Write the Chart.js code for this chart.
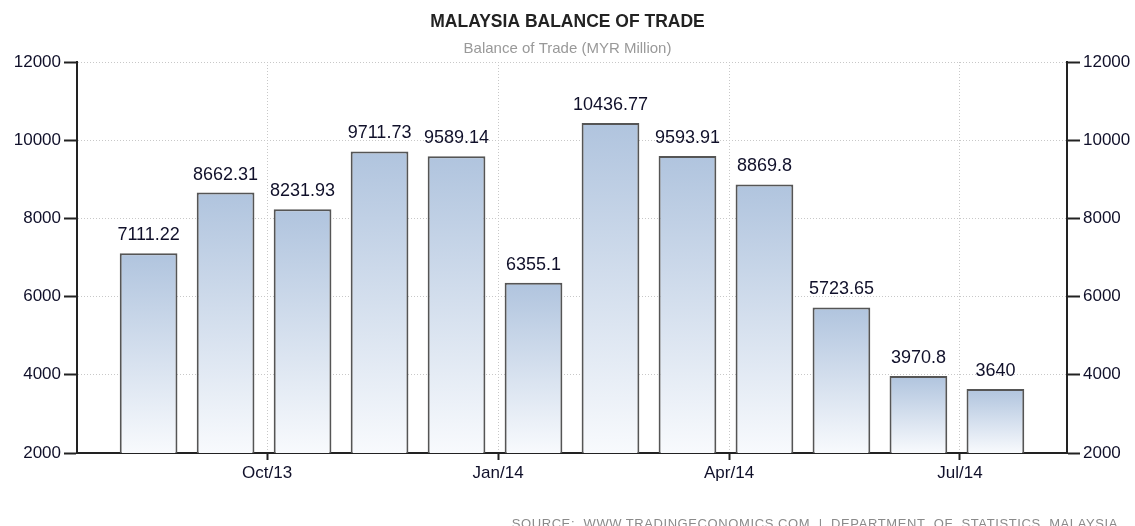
<!DOCTYPE html>
<html>
<head>
<meta charset="utf-8">
<script src="https://cdn.jsdelivr.net/npm/chart.js@4/dist/chart.umd.min.js"></script>
<style>
  html, body { margin: 0; padding: 0; background: #fff; }
  canvas { display: block; }
</style>
</head>
<body>
<canvas id="chart" width="1135" height="526"></canvas>
<script>
// Monthly balance of trade, Aug 2013 .. Jul 2014 (MYR million)
const months = ['Aug/13', 'Sep/13', 'Oct/13', 'Nov/13', 'Dec/13', 'Jan/14',
                'Feb/14', 'Mar/14', 'Apr/14', 'May/14', 'Jun/14', 'Jul/14'];
const balance = [7111.22, 8662.31, 8231.93, 9711.73, 9589.14, 6355.1,
                 10436.77, 9593.91, 8869.8, 5723.65, 3970.8, 3640];
const tickLabels = ['Oct/13', 'Jan/14', 'Apr/14', 'Jul/14'];
const yTicks = [2000, 4000, 6000, 8000, 10000, 12000];

const FONT = 'Liberation Sans';
const TEXT = '#10102a';

// bars sit around the 15th of each month, ticks at the start of the month
const points = balance.map((v, i) => ({ x: i + 0.46, y: v }));
const tickPos = tickLabels.map(l => months.indexOf(l));

const valueLabels = {
  id: 'valueLabels',
  afterDatasetsDraw(chart) {
    const ctx = chart.ctx;
    const meta = chart.getDatasetMeta(0);
    ctx.save();
    ctx.font = '18px "' + FONT + '"';
    ctx.fillStyle = TEXT;
    ctx.textAlign = 'center';
    ctx.textBaseline = 'alphabetic';
    meta.data.forEach((bar, i) => {
      ctx.fillText(String(balance[i]), bar.x, bar.y - 13);
    });
    ctx.restore();
  }
};

const sourceNote = {
  id: 'sourceNote',
  afterDraw(chart) {
    const ctx = chart.ctx;
    ctx.save();
    ctx.font = '13px "' + FONT + '"';
    ctx.fillStyle = '#8a8a8a';
    ctx.textAlign = 'right';
    ctx.textBaseline = 'top';
    if ('letterSpacing' in ctx) ctx.letterSpacing = '0.6px';
    ctx.fillText('SOURCE:  WWW.TRADINGECONOMICS.COM  |  DEPARTMENT  OF  STATISTICS, MALAYSIA', 1118, 518);
    ctx.restore();
  }
};

function barFill(c) {
  const chart = c.chart;
  const area = chart.chartArea;
  if (!area || !c.raw) return '#b0c4de';
  const top = chart.scales.y.getPixelForValue(c.raw.y);
  const g = chart.ctx.createLinearGradient(0, top, 0, area.bottom);
  g.addColorStop(0, '#b0c4de');
  g.addColorStop(1, '#f8fafd');
  return g;
}

const yCommon = {
  type: 'linear',
  min: 2000,
  max: 12000,
  afterBuildTicks: s => { s.ticks = yTicks.map(v => ({ value: v })); },
  ticks: { color: TEXT, font: { family: FONT, size: 17 }, padding: 3, callback: v => String(v) },
  border: { display: true, color: '#222', width: 2, dash: [1, 2] },
};

new Chart(document.getElementById('chart'), {
  type: 'bar',
  data: {
    datasets: [{
      data: points,
      backgroundColor: barFill,
      borderColor: '#555',
      borderWidth: 2,
      barPercentage: 0.75,
      categoryPercentage: 1
    }]
  },
  options: {
    responsive: false,
    animation: false,
    devicePixelRatio: 1,
    layout: { padding: 0 },
    plugins: {
      legend: { display: false },
      tooltip: { enabled: false },
      title: {
        display: true,
        text: 'MALAYSIA BALANCE OF TRADE',
        color: '#222',
        font: { family: FONT, size: 17.5, weight: 'bold', lineHeight: 1.2 },
        padding: { top: 12, bottom: 0 }
      },
      subtitle: {
        display: true,
        text: 'Balance of Trade (MYR Million)',
        color: '#999',
        font: { family: FONT, size: 15, lineHeight: 1.2 },
        padding: { top: 7, bottom: 4 }
      }
    },
    scales: {
      x: {
        type: 'linear',
        offset: false,
        min: -0.47,
        max: 12.39,
        afterBuildTicks: s => { s.ticks = tickPos.map(v => ({ value: v })); },
        afterFit: s => { s.height = 73; },
        ticks: {
          color: TEXT,
          font: { family: FONT, size: 17 },
          padding: 3,
          maxRotation: 0,
          autoSkip: false,
          callback: v => months[v]
        },
        grid: { offset: false, color: '#c8c8c8', tickColor: '#222', tickWidth: 2, tickLength: 7 },
        border: { display: true, color: '#222', width: 2, dash: [1, 2] }
      },
      y: Object.assign({}, yCommon, {
        position: 'left',
        afterFit: s => { s.width = 77; },
        grid: { color: '#c8c8c8', tickColor: '#222', tickWidth: 2, tickLength: 13 }
      }),
      y2: Object.assign({}, yCommon, {
        position: 'right',
        afterFit: s => { s.width = 68; },
        grid: { drawOnChartArea: false, tickColor: '#222', tickWidth: 2, tickLength: 13 }
      })
    }
  },
  plugins: [valueLabels, sourceNote]
});
</script>
</body>
</html>
